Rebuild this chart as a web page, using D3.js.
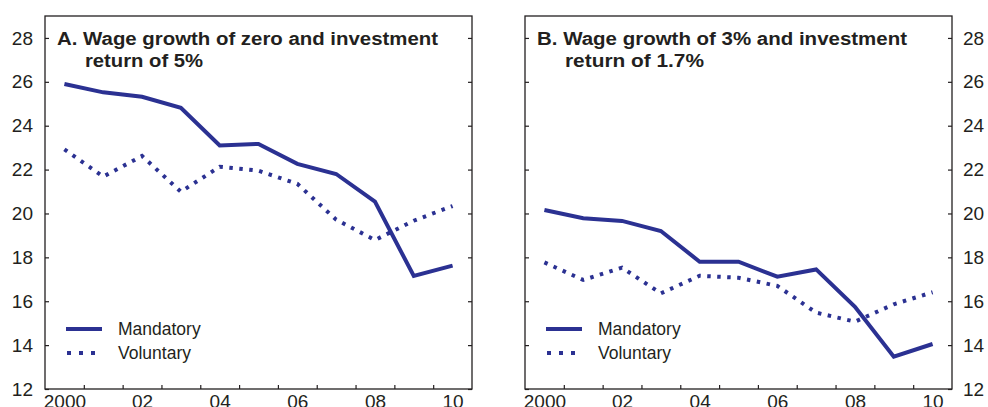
<!DOCTYPE html>
<html>
<head>
<meta charset="utf-8">
<script src="https://cdn.jsdelivr.net/npm/d3@7"></script>
<style>
  html, body { margin: 0; padding: 0; background: #fff; }
  svg { display: block; font-family: "Liberation Sans", Arial, sans-serif; }
</style>
</head>
<body>
<svg id="chart" width="988" height="407"></svg>
<script>
// ---- data ----
const years = [2000, 2001, 2002, 2003, 2004, 2005, 2006, 2007, 2008, 2009, 2010];
const mandatoryA = [25.9, 25.52, 25.32, 24.82, 23.1, 23.17, 22.26, 21.8, 20.54, 17.15, 17.62];
const voluntaryA = [22.92, 21.68, 22.62, 20.99, 22.13, 21.95, 21.35, 19.72, 18.79, 19.67, 20.34];
const mandatoryB = [20.16, 19.78, 19.66, 19.2, 17.8, 17.8, 17.12, 17.45, 15.75, 13.47, 14.05];
const voluntaryB = [17.77, 16.97, 17.53, 16.36, 17.16, 17.07, 16.7, 15.48, 15.07, 15.86, 16.41];
const yTicks = [12, 14, 16, 18, 20, 22, 24, 26, 28];
const xLabelYears = [2000, 2002, 2004, 2006, 2008, 2010];
const xLabels = ["2000", "02", "04", "06", "08", "10"];
const titlesA = ["A. Wage growth of zero and investment", "return of 5%"];
const titlesB = ["B. Wage growth of 3% and investment", "return of 1.7%"];
const seriesNames = ["Mandatory", "Voluntary"];

const navy = "#2b3192";
const ink = "#231f20";

const svg = d3.select("#chart");
const plotTop = 16, plotBottom = 389;
const y = d3.scaleLinear().domain([12, 29]).range([plotBottom, plotTop]);

function fitText(sel, target) {
  // stretch a text horizontally to the measured width of the reference title
  sel.attr("textLength", target).attr("lengthAdjust", "spacingAndGlyphs");
}

function panel(x0, x1, mand, vol, titles, titleWidths, labelSide) {
  const x = d3.scaleLinear().domain([1999.5, 2010.5]).range([x0, x1]);
  const g = svg.append("g");

  // frame
  g.append("rect").attr("x", x0).attr("y", plotTop).attr("width", x1 - x0).attr("height", plotBottom - plotTop)
    .attr("fill", "none").attr("stroke", ink).attr("stroke-width", 1.3);

  // y axes: ticks inward on both sides
  const left = d3.axisLeft(y).tickValues(yTicks).tickSize(-4).tickPadding(12);
  const right = d3.axisRight(y).tickValues(yTicks).tickSize(-4).tickPadding(11);
  if (labelSide === "left") right.tickFormat(""); else left.tickFormat("");
  const gl = g.append("g").attr("transform", `translate(${x0},0)`).call(left);
  const gr = g.append("g").attr("transform", `translate(${x1},0)`).call(right);
  [gl, gr].forEach(a => {
    a.select(".domain").remove();
    a.selectAll("line").attr("stroke", ink).attr("stroke-width", 1.2);
    a.selectAll("text").attr("fill", ink).style("font-size", "19px").attr("font-family", null);
  });

  // x ticks at year boundaries
  const bounds = years.slice(0, -1).map(v => v + 0.5);
  const gx = g.append("g").attr("transform", `translate(0,${plotBottom})`)
    .call(d3.axisBottom(x).tickValues(bounds).tickSize(-4).tickFormat(""));
  gx.select(".domain").remove();
  gx.selectAll("line").attr("stroke", ink).attr("stroke-width", 1.2);

  const gxl = g.append("g").attr("transform", `translate(0,${plotBottom})`)
    .call(d3.axisBottom(x).tickValues(xLabelYears).tickSize(0).tickPadding(6)
      .tickFormat((d, i) => xLabels[i]));
  gxl.select(".domain").remove();
  gxl.selectAll("text").attr("fill", ink).style("font-size", "19px").attr("font-family", null);

  // title
  g.append("text").attr("x", x0 + 12).attr("y", 45).attr("fill", ink)
    .style("font-size", "18.8px").style("font-weight", "bold").text(titles[0])
    .call(fitText, titleWidths[0]);
  g.append("text").attr("x", x0 + 40).attr("y", 67).attr("fill", ink)
    .style("font-size", "18.8px").style("font-weight", "bold").text(titles[1])
    .call(fitText, titleWidths[1]);

  // lines
  const line = d3.line().x((d, i) => x(years[i])).y(d => y(d));
  g.append("path").datum(vol).attr("d", line).attr("fill", "none").attr("stroke", navy)
    .attr("stroke-width", 4).attr("stroke-dasharray", "3.5,6.5");
  g.append("path").datum(mand).attr("d", line).attr("fill", "none").attr("stroke", navy)
    .attr("stroke-width", 4).attr("stroke-linejoin", "miter");

  // legend
  const lx = x0 + 21;
  g.append("line").attr("x1", lx).attr("x2", lx + 36).attr("y1", 329).attr("y2", 329)
    .attr("stroke", navy).attr("stroke-width", 4);
  g.append("line").attr("x1", lx + 1).attr("x2", lx + 36).attr("y1", 353).attr("y2", 353)
    .attr("stroke", navy).attr("stroke-width", 4).attr("stroke-dasharray", "4,8");
  g.append("text").attr("x", lx + 52).attr("y", 335).attr("fill", ink).style("font-size", "17.5px").text(seriesNames[0]);
  g.append("text").attr("x", lx + 52).attr("y", 359).attr("fill", ink).style("font-size", "17.5px").text(seriesNames[1]);
}

panel(45, 472, mandatoryA, voluntaryA, titlesA, [381, 118], "left");
panel(525, 952, mandatoryB, voluntaryB, titlesB, [370, 139], "right");
</script>
</body>
</html>
